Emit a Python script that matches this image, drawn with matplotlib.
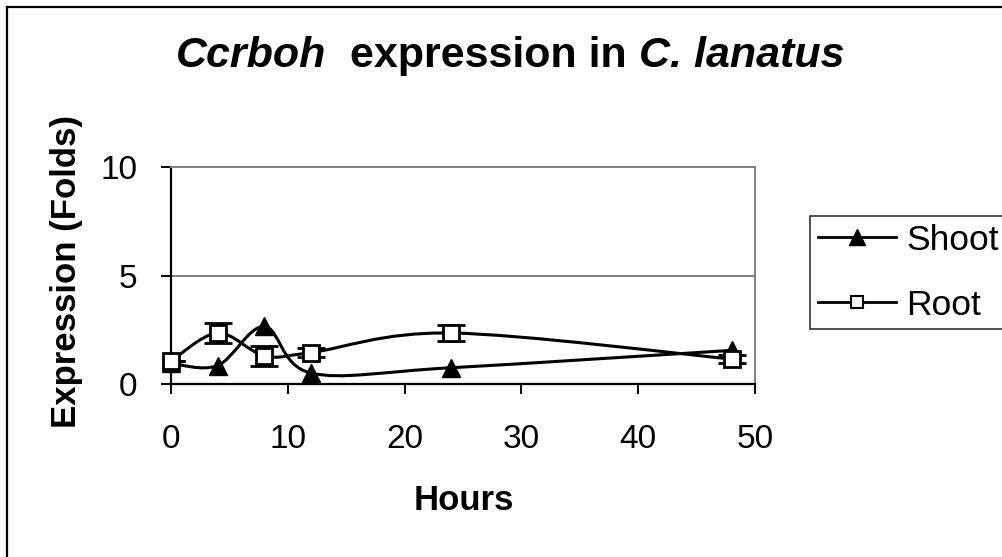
import numpy as np
import matplotlib.pyplot as plt
from matplotlib.path import Path
from matplotlib.patches import PathPatch
from matplotlib.lines import Line2D

plt.rcParams['font.family'] = ['Liberation Sans', 'DejaVu Sans']

# data
hours = [0, 4, 8, 12, 24, 48]
shoot = [0.95, 0.85, 2.65, 0.5, 0.75, 1.55]
root = [1.05, 2.35, 1.3, 1.45, 2.35, 1.15]
root_err = [0.0, 0.45, 0.45, 0.2, 0.35, 0.2]

x_ticks = [0, 10, 20, 30, 40, 50]
y_ticks = [0, 5, 10]


def smooth_path(x, y):
  # excel style smoothed line: bezier segments through the points
  p = np.column_stack([x, y]).astype(float)
  n = len(p)
  verts = [p[0]]
  codes = [Path.MOVETO]
  for i in range(n - 1):
    p0 = p[i - 1] if i > 0 else p[i]
    p3 = p[i + 2] if i + 2 < n else p[i + 1]
    c1 = p[i] + (p[i + 1] - p0) / 6.0
    c2 = p[i + 1] - (p3 - p[i]) / 6.0
    verts += [c1, c2, p[i + 1]]
    codes += [Path.CURVE4] * 3
  return Path(verts, codes)


fig = plt.figure(figsize=(10.02, 5.57), dpi=100)
W, H = 1002.0, 557.0

# outer chart border (cut off at right / bottom)
fig.add_artist(Line2D([7 / W, 1.0], [1 - 7 / H, 1 - 7 / H], color='black', lw=1.6))
fig.add_artist(Line2D([7 / W, 7 / W], [0.0, 1 - 7 / H], color='black', lw=1.6))

ax = fig.add_axes([171 / W, 1 - 384 / H, (755 - 171) / W, (384 - 167) / H])
ax.set_xlim(0, 50)
ax.set_ylim(0, 10)

ax.axhline(5, color='#808080', lw=1.4, zorder=1)

ax.add_patch(PathPatch(smooth_path(hours, shoot), fill=False, color='black', lw=2.2, zorder=3))
ax.add_patch(PathPatch(smooth_path(hours, root), fill=False, color='black', lw=2.2, zorder=3))

ax.errorbar(hours, root, yerr=root_err, fmt='none', ecolor='black', elinewidth=2,
            capsize=10, capthick=2, zorder=4)
ax.plot(hours, shoot, linestyle='none', marker='^', ms=13, color='black', zorder=5, clip_on=False)
ax.plot(hours, root, linestyle='none', marker='s', ms=11, mfc='white', mec='black', mew=2,
        zorder=6, clip_on=False)

for s in ['top', 'right']:
  ax.spines[s].set_color('#808080')
  ax.spines[s].set_linewidth(1.4)
for s in ['left', 'bottom']:
  ax.spines[s].set_color('black')
  ax.spines[s].set_linewidth(1.6)

ax.set_xticks(x_ticks)
ax.set_yticks(y_ticks)
ax.tick_params(direction='out', length=7, width=1.4, labelsize=24, color='black')
ax.tick_params(axis='x', pad=22)
ax.tick_params(axis='y', pad=17)

fig.text(67 / W, 1 - 272 / H, 'Expression (Folds)', rotation=90, ha='center', va='center',
         fontsize=25, fontweight='bold')
fig.text(464 / W, 1 - 501 / H, 'Hours', ha='center', va='center', fontsize=25, fontweight='bold')

# title with italic gene / species names
t1 = fig.text(176 / W, 1 - 67 / H, 'Ccrboh', fontsize=31, fontweight='bold', fontstyle='italic',
              va='baseline', ha='left')
t2 = ax.annotate('  expression in ', xy=(1, 0), xycoords=t1, va='bottom', ha='left',
                 fontsize=31, fontweight='bold')
t3 = ax.annotate('C. lanatus', xy=(1, 0), xycoords=t2, va='bottom', ha='left',
                 fontsize=31, fontweight='bold', fontstyle='italic')

handles = [Line2D([], [], color='black', lw=2, marker='^', ms=12),
           Line2D([], [], color='black', lw=2, marker='s', ms=9, mfc='white', mew=1.5)]
leg = fig.legend(handles, ['Shoot', 'Root'], loc='upper left',
                 bbox_to_anchor=(810 / W, 1 - 216 / H), borderaxespad=0, fontsize=25.5,
                 frameon=True, fancybox=False, edgecolor='black', handlelength=2.2,
                 handletextpad=0.3, labelspacing=0.9, borderpad=0.22)
leg.get_frame().set_linewidth(1.2)

fig.savefig('out.png', dpi=100)
